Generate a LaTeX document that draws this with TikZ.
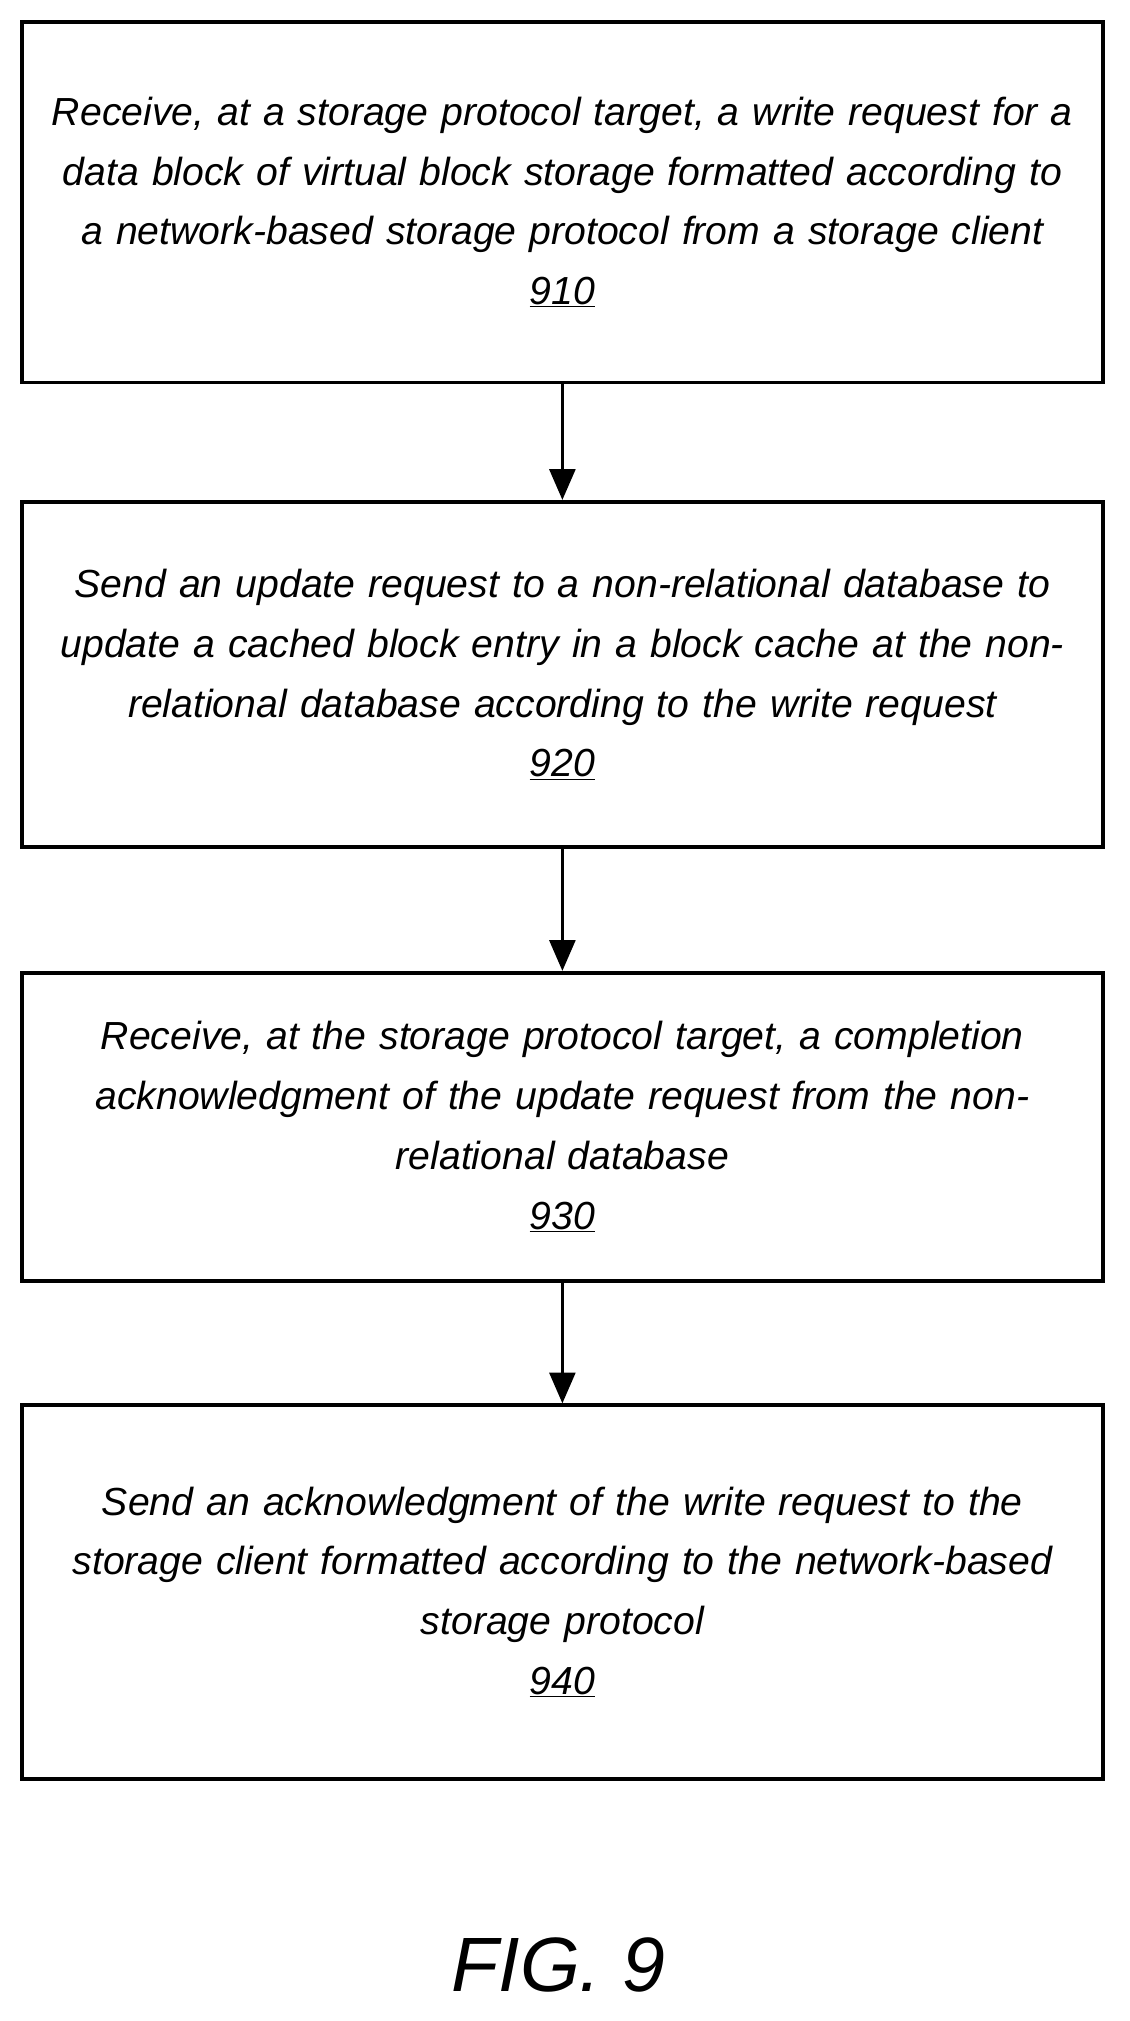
\documentclass[tikz,border=0pt]{standalone}
\usepackage{fontspec}
\setmainfont{Liberation Sans}
\usetikzlibrary{positioning}
\usetikzlibrary{arrows.meta}

\begin{document}
\begin{tikzpicture}[x=1pt, y=-1pt, ->, >={Triangle[length=24pt,width=20pt]}, line width=2.8pt]
\tikzstyle{flowbox} = [draw=black, rectangle, text width=838pt, minimum width=842pt, inner sep=2pt, align=center, font=\fontsize{30.5}{46.5}\selectfont\itshape]

\useasboundingbox (0,0) rectangle (880,1574);

\node[flowbox, minimum height=281pt] (s910) at (438,157.5) {Receive, at a storage protocol target, a write request for a\\data block of virtual block storage formatted according to\\a network-based storage protocol from a storage client\\\underline{910}};
\node[flowbox, minimum height=269pt] (s920)[below=90pt of s910] {Send an update request to a non-relational database to\\update a cached block entry in a block cache at the non-\\relational database according to the write request\\\underline{920}};
\node[flowbox, minimum height=240pt] (s930)[below=95pt of s920] {Receive, at the storage protocol target, a completion\\acknowledgment of the update request from the non-\\relational database\\\underline{930}};
\node[flowbox, minimum height=291pt] (s940)[below=94pt of s930] {Send an acknowledgment of the write request to the\\storage client formatted according to the network-based\\storage protocol\\\underline{940}};

\node[font=\fontsize{60}{70}\selectfont\itshape] (fig) at (435,1530) {FIG. 9};

\path (s910) edge (s920)
	(s920) edge (s930)
	(s930) edge (s940);

\end{tikzpicture}
\end{document}
